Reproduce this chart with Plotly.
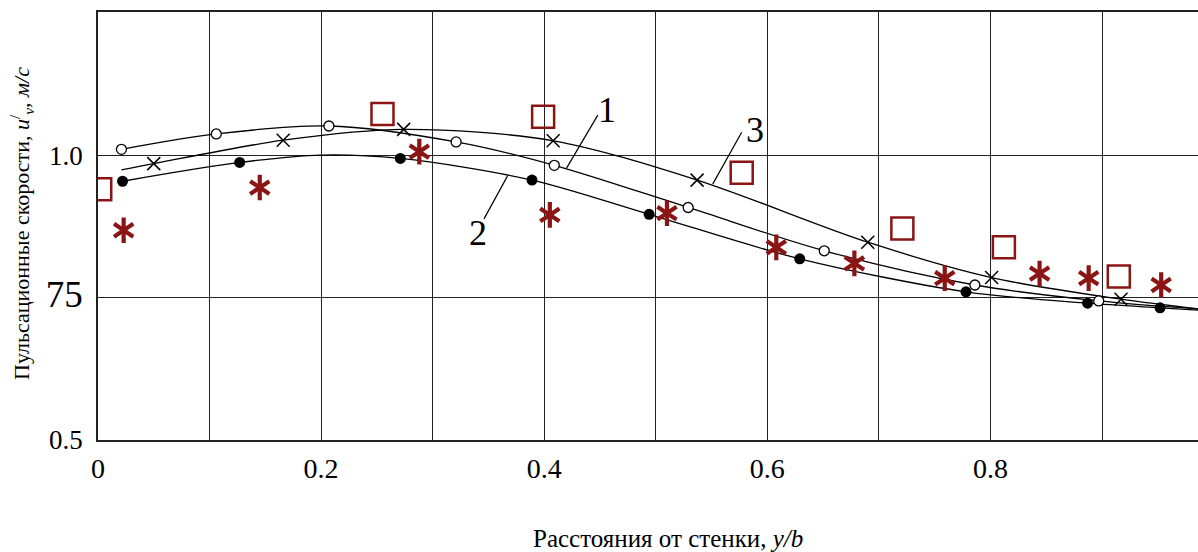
import plotly.graph_objects as go

# ---- data ----
# series 1: open circles
s1_x = [0.021, 0.106, 0.207, 0.321, 0.409, 0.529, 0.651, 0.786, 0.897]
s1_y = [1.010, 1.037, 1.051, 1.023, 0.982, 0.908, 0.832, 0.772, 0.744]
# series 2: filled circles
s2_x = [0.022, 0.127, 0.271, 0.389, 0.494, 0.629, 0.778, 0.887, 0.952]
s2_y = [0.954, 0.987, 0.994, 0.956, 0.896, 0.818, 0.760, 0.740, 0.732]
# series 3: crosses
s3_x = [0.050, 0.166, 0.274, 0.408, 0.537, 0.690, 0.801, 0.917]
s3_y = [0.985, 1.026, 1.045, 1.025, 0.956, 0.847, 0.785, 0.747]
# squares (experiment)
sq_x = [0.002, 0.255, 0.399, 0.577, 0.721, 0.812, 0.915]
sq_y = [0.940, 1.072, 1.067, 0.969, 0.871, 0.838, 0.787]
# asterisks (experiment)
ast_x = [0.023, 0.145, 0.288, 0.405, 0.510, 0.608, 0.678, 0.759, 0.844, 0.888, 0.953]
ast_y = [0.868, 0.943, 1.006, 0.895, 0.898, 0.838, 0.810, 0.784, 0.792, 0.784, 0.772]

# fitted curves
c1_x = [0.021, 0.106, 0.207, 0.321, 0.409, 0.529, 0.651, 0.786, 0.897, 0.986]
c1_y = [1.010, 1.037, 1.051, 1.023, 0.982, 0.908, 0.832, 0.772, 0.744, 0.730]
c2_x = [0.022, 0.127, 0.200, 0.271, 0.389, 0.494, 0.629, 0.778, 0.887, 0.952, 0.986]
c2_y = [0.954, 0.987, 1.000, 0.994, 0.956, 0.896, 0.818, 0.760, 0.740, 0.732, 0.728]
c3_x = [0.021, 0.050, 0.166, 0.274, 0.408, 0.537, 0.690, 0.801, 0.917, 0.986]
c3_y = [0.974, 0.985, 1.026, 1.045, 1.025, 0.956, 0.847, 0.785, 0.747, 0.730]

x_tickvals = [0, 0.2, 0.4, 0.6, 0.8]
x_ticktext = ["0", "0.2", "0.4", "0.6", "0.8"]
y_tickvals = [0.5, 0.75, 1.0]
y_ticktext = ["0.5", "<span style='font-size:37px'>75</span>", "1.0"]

curve_labels = ["1", "2", "3"]

RED = "#8b1414"
FONT = "Liberation Serif"

fig = go.Figure()

line_style = dict(color="black", width=1.3, shape="spline", smoothing=0.9)
for cx, cy in [(c1_x, c1_y), (c2_x, c2_y), (c3_x, c3_y)]:
    fig.add_trace(go.Scatter(x=cx, y=cy, mode="lines", line=line_style,
                             hoverinfo="skip", showlegend=False))

fig.add_trace(go.Scatter(x=s3_x, y=s3_y, mode="markers", showlegend=False,
                         marker=dict(symbol="x-thin-open", size=13, color="black",
                                     line=dict(color="black", width=1.5))))
fig.add_trace(go.Scatter(x=s1_x, y=s1_y, mode="markers", showlegend=False,
                         marker=dict(symbol="circle", size=10, color="white",
                                     line=dict(color="black", width=1.3))))
fig.add_trace(go.Scatter(x=s2_x, y=s2_y, mode="markers", showlegend=False,
                         marker=dict(symbol="circle", size=11, color="black",
                                     line=dict(color="black", width=0))))
fig.add_trace(go.Scatter(x=sq_x, y=sq_y, mode="markers", showlegend=False,
                         marker=dict(symbol="square-open", size=22, color=RED,
                                     line=dict(color=RED, width=2.5))))
for sym in ["y-up-open", "y-down-open"]:
    fig.add_trace(go.Scatter(x=ast_x, y=ast_y, mode="markers", showlegend=False,
                             marker=dict(symbol=sym, size=16, color=RED,
                                         line=dict(color=RED, width=4.2))))

# curve labels with leader lines
label_pos = [(0.456, 1.079), (0.341, 0.863), (0.589, 1.044)]
leaders = [((0.448, 1.070), (0.420, 0.977)),
           ((0.346, 0.888), (0.367, 0.963)),
           ((0.577, 1.040), (0.551, 0.949))]
for txt, (lx, ly), ((ax0, ay0), (ax1, ay1)) in zip(curve_labels, label_pos, leaders):
    fig.add_annotation(x=lx, y=ly, text=txt, showarrow=False, xref="x", yref="y",
                       font=dict(family=FONT, size=36, color="black"))
    fig.add_shape(type="line", x0=ax0, y0=ay0, x1=ax1, y1=ay1, xref="x", yref="y",
                  line=dict(color="black", width=1.2))

fig.add_annotation(x=0.518, y=-0.231, xref="paper", yref="paper",
                   text="Расстояния от стенки, <i>y/b</i>", showarrow=False,
                   yanchor="middle", xanchor="center",
                   font=dict(family=FONT, size=25, color="black"))
fig.add_annotation(x=-0.069, y=0.505, xref="paper", yref="paper", textangle=-90,
                   text="Пульсационные скорости, <i>u</i><sup>/</sup><sub><i>v</i></sub>, <i>м/с</i>",
                   showarrow=False, yanchor="middle", xanchor="center",
                   font=dict(family=FONT, size=22, color="black"))

fig.update_layout(
    width=1198, height=552,
    margin=dict(l=98, r=0, t=12, b=112, autoexpand=False),
    paper_bgcolor="white", plot_bgcolor="white",
    font=dict(family=FONT, color="black"),
    showlegend=False,
)
fig.update_xaxes(range=[0, 0.986], tickvals=x_tickvals, ticktext=x_ticktext,
                 showgrid=True, gridcolor="#222", gridwidth=1,
                 minor=dict(dtick=0.1, tick0=0, showgrid=True, gridcolor="#222", gridwidth=1),
                 showline=True, linecolor="#222", linewidth=1.5, mirror=True,
                 ticks="outside", ticklen=3, tickcolor="rgba(0,0,0,0)",
                 tickfont=dict(family=FONT, size=28, color="black"), zeroline=False)
fig.update_yaxes(range=[0.5, 1.251], tickvals=y_tickvals, ticktext=y_ticktext,
                 showgrid=True, gridcolor="#222", gridwidth=1,
                 showline=True, linecolor="#222", linewidth=1.5,
                 ticks="outside", ticklen=8, tickcolor="rgba(0,0,0,0)",
                 tickfont=dict(family=FONT, size=27, color="black"), zeroline=False)

fig.write_html("out.html", config={"displayModeBar": False},
               post_script="document.body.style.margin='0';document.body.style.overflow='hidden';")
